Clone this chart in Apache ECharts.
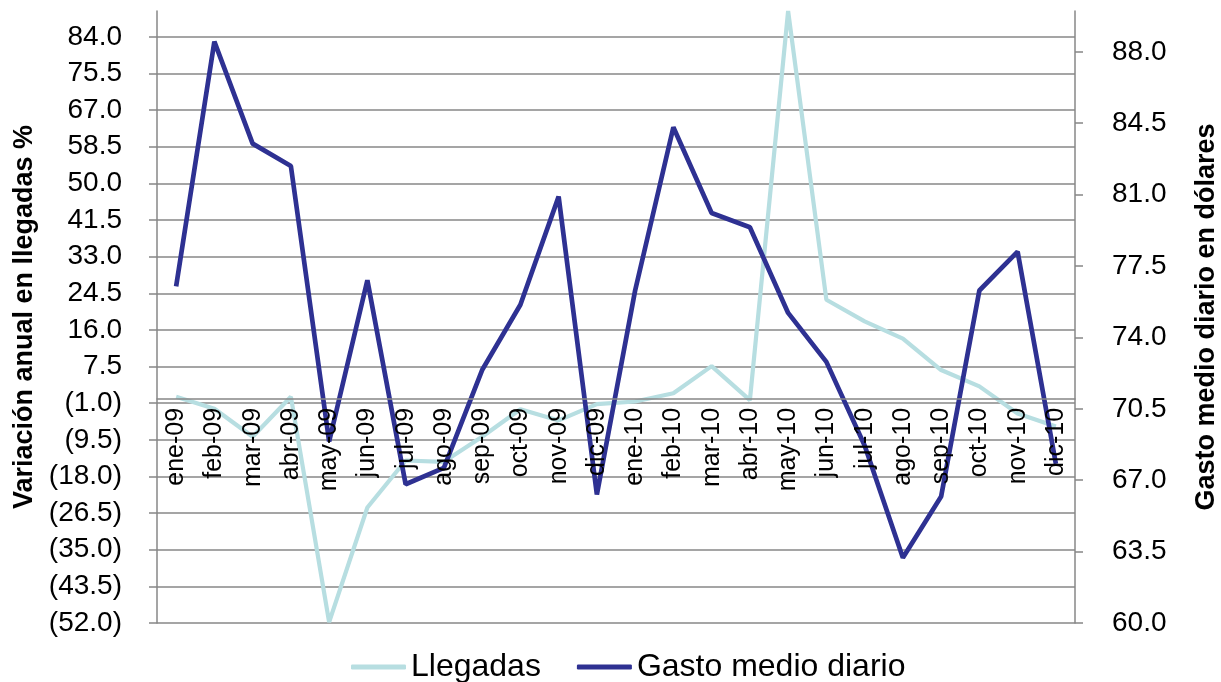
<!DOCTYPE html>
<html>
<head>
<meta charset="utf-8">
<title>Llegadas y gasto medio diario</title>
<script src="https://cdn.jsdelivr.net/npm/echarts@6/dist/echarts.min.js"></script>
<style>
  html, body { margin: 0; padding: 0; background: #fff; }
  #chart { width: 1221px; height: 682px; }
</style>
</head>
<body>
<div id="chart"></div>
<script>
const months = ['ene-09', 'feb-09', 'mar-09', 'abr-09', 'may-09', 'jun-09', 'jul-09', 'ago-09', 'sep-09', 'oct-09', 'nov-09', 'dic-09',
  'ene-10', 'feb-10', 'mar-10', 'abr-10', 'may-10', 'jun-10', 'jul-10', 'ago-10', 'sep-10', 'oct-10', 'nov-10', 'dic-10']
// variación anual en llegadas (%), eje izquierdo
const llegadas = [0.5, -2.3, -8.8, 0.5, -51.8, -25.2, -14.3, -14.6, -8.8, -2.4, -5.0, -1.2,
  -0.6, 1.3, 7.6, -0.3, 90.0, 23.0, 18.0, 14.0, 6.7, 2.9, -3.4, -6.4]
// gasto medio diario en dólares, eje derecho
const gasto = [76.5, 88.5, 83.5, 82.4, 68.9, 76.8, 66.8, 67.6, 72.4, 75.6, 80.9, 66.3,
  76.3, 84.3, 80.1, 79.4, 75.2, 72.8, 68.7, 63.2, 66.2, 76.3, 78.2, 67.8]
const leftTicks = [-52, -43.5, -35, -26.5, -18, -9.5, -1, 7.5, 16, 24.5, 33, 41.5, 50, 58.5, 67, 75.5, 84]
const rightTicks = [60, 63.5, 67, 70.5, 74, 77.5, 81, 84.5, 88]

const font = 'Liberation Sans, Arial, sans-serif'
const grey = '#878787'

const gridTop = 11
const gridBottom = 59
const leftMin = -52
const leftMax = 90
// el eje de categorías cruza el eje izquierdo en cero
const plotHeight = 682 - gridTop - gridBottom
const zeroOffset = -plotHeight * (0 - leftMin) / (leftMax - leftMin)

// negativos entre paréntesis, como en Excel
function fmtLeft(v) {
  const s = Math.abs(v).toFixed(1)
  return v < 0 ? '(' + s + ')' : s
}

const chart = echarts.init(document.getElementById('chart'))
chart.setOption({
  animation: false,
  backgroundColor: '#fff',
  textStyle: { fontFamily: font },
  grid: { left: 157, right: 146, top: gridTop, bottom: gridBottom, containLabel: false, outerBoundsMode: 'none' },
  legend: {
    left: 351,
    top: 651,
    padding: 0,
    icon: 'roundRect',
    itemWidth: 55,
    itemHeight: 5,
    itemGap: 36,
    textStyle: { fontFamily: font, fontSize: 32, color: '#000' },
    data: ['Llegadas', 'Gasto medio diario']
  },
  xAxis: {
    type: 'category',
    data: months,
    boundaryGap: true,
    position: 'bottom',
    offset: zeroOffset,
    z: 5,
    axisLine: { onZero: false, lineStyle: { color: grey, width: 1.5 } },
    axisTick: { show: false },
    axisLabel: { rotate: 90, margin: 9, fontSize: 25, color: '#000', fontFamily: font, interval: 0 },
    splitLine: { show: false }
  },
  yAxis: [
    {
      type: 'value',
      min: leftMin,
      max: leftMax,
      name: 'Variación anual en llegadas %',
      nameLocation: 'middle',
      nameRotate: 90,
      nameGap: 115,
      nameTextStyle: { fontFamily: font, fontSize: 27, fontWeight: 'bold', color: '#000' },
      axisLine: { show: true, lineStyle: { color: grey, width: 1.5 } },
      axisTick: { show: true, length: 8, lineStyle: { color: grey, width: 1.5 }, customValues: leftTicks },
      axisLabel: { fontSize: 28, color: '#000', fontFamily: font, margin: 35, formatter: fmtLeft, customValues: leftTicks },
      splitLine: { show: true, lineStyle: { color: grey, width: 1.5 } }
    },
    {
      type: 'value',
      min: 60,
      max: 90,
      position: 'right',
      name: 'Gasto medio diario en dólares',
      nameLocation: 'middle',
      nameRotate: 90,
      nameGap: 118,
      nameTextStyle: { fontFamily: font, fontSize: 27, fontWeight: 'bold', color: '#000' },
      axisLine: { show: true, lineStyle: { color: grey, width: 1.5 } },
      axisTick: { show: true, length: 8, lineStyle: { color: grey, width: 1.5 }, customValues: rightTicks },
      axisLabel: { fontSize: 28, color: '#000', fontFamily: font, margin: 37, formatter: v => v.toFixed(1), customValues: rightTicks },
      splitLine: { show: false }
    }
  ],
  series: [
    {
      name: 'Llegadas',
      type: 'line',
      yAxisIndex: 0,
      data: llegadas,
      symbol: 'none',
      color: '#b7dee1',
      lineStyle: { width: 4.2, color: '#b7dee1' }
    },
    {
      name: 'Gasto medio diario',
      type: 'line',
      yAxisIndex: 1,
      data: gasto,
      symbol: 'none',
      color: '#2e3192',
      lineStyle: { width: 4.7, color: '#2e3192' }
    }
  ]
})
</script>
</body>
</html>
